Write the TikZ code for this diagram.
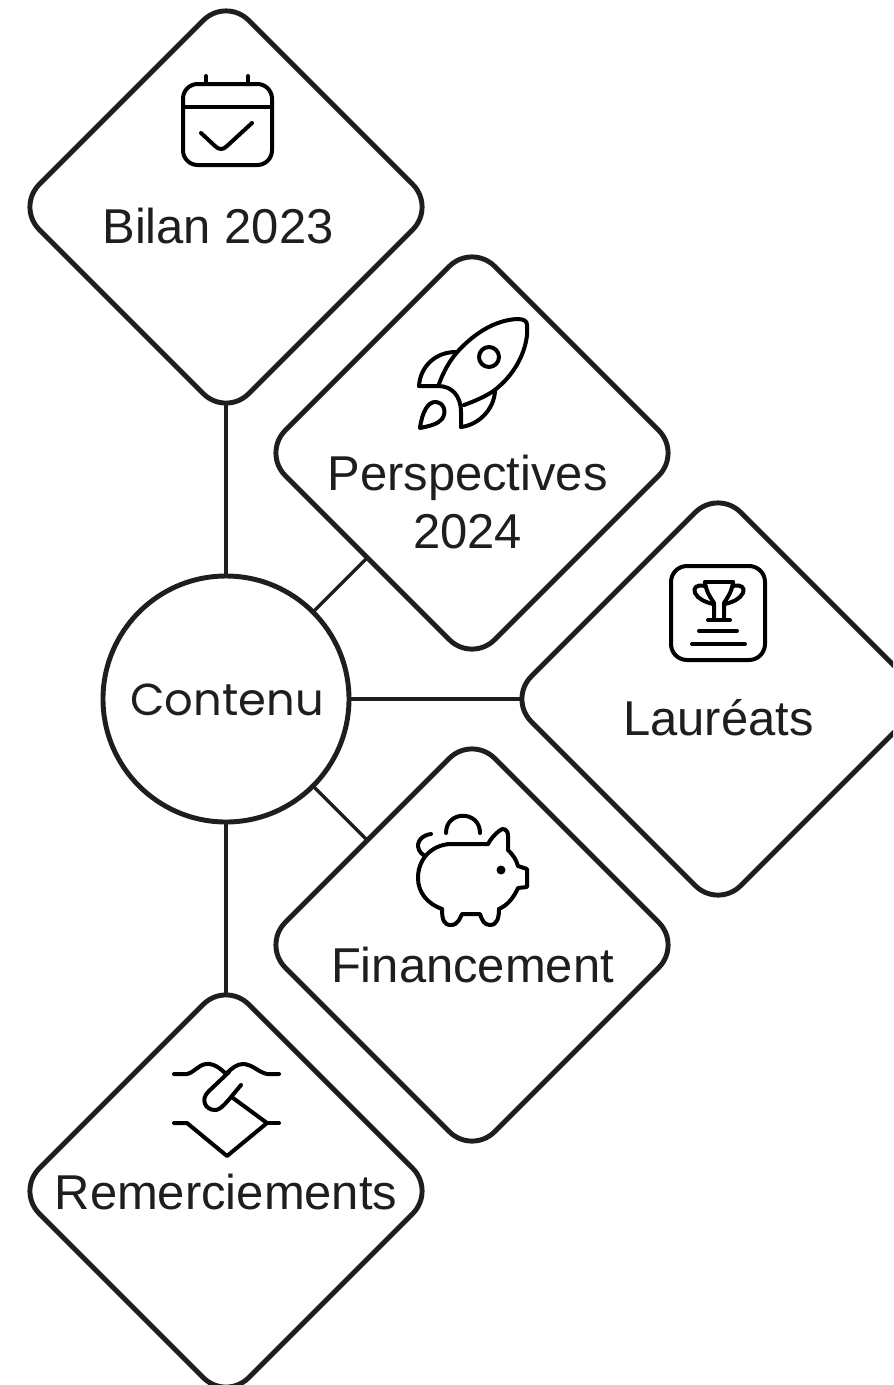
\documentclass[tikz,border=0pt]{standalone}
\usepackage{fontspec}
\setmainfont{Liberation Sans}
\newfontfamily\contenufont{Poppins}
\usetikzlibrary{shapes.geometric,backgrounds}
\definecolor{ink}{HTML}{1E1E1E}
\tikzset{
  px/.style={x=0.75pt,y=-0.75pt},
  topic/.style={diamond,draw=ink,line width=3.7pt,fill=white,rounded corners=24pt,aspect=1,inner sep=0pt,outer sep=0pt,minimum width=314pt,minimum height=314pt},
  hub/.style={circle,draw=ink,line width=3.7pt,fill=white,inner sep=0pt,outer sep=0pt,minimum size=184.5pt},
  link/.style={draw=ink,line width=3.3pt},
  thinlink/.style={draw=ink,line width=2.4pt},
  label/.style={text=ink,font=\fontsize{36.7}{44}\selectfont,align=center,inner sep=0pt},
  icon/.style={draw=black,line width=3pt,line cap=round,line join=round},
}
\begin{document}
\begin{tikzpicture}[px]
\useasboundingbox (0,0) rectangle (893,1385);
\begin{scope}
\clip (0,0) rectangle (893,1385);
\node[hub] (hub) at (226,699) {};
\node[topic] (bilan) at (226,207) {};
\node[topic] (persp) at (472,453) {};
\node[topic] (laur) at (718,699) {};
\node[topic] (fin) at (472,945) {};
\node[topic] (rem) at (226,1191) {};
\begin{scope}[on background layer]
\draw[link] (hub.center) -- (bilan.center);
\draw[thinlink] (hub.45) -- (persp.south west);
\draw[link] (hub.center) -- (laur.center);
\draw[thinlink] (hub.-45) -- (fin.north west);
\draw[link] (hub.center) -- (rem.center);
\end{scope}
\end{scope}
\node[text=ink,font=\contenufont\fontsize{33.6}{40}\selectfont,inner sep=0pt] (tc) at (227,700) {Contenu};
\node[label] (tb) at (218,226) {Bilan 2023};
\node[label] (tp) at (467.5,502) {Perspectives\\2024};
\node[label] (tl) at (718.5,718) {Lauréats};
\node[label] (tf) at (472.5,965) {Financement};
\node[label] (tr) at (226,1192) {Remerciements};
% calendar
\draw[icon,rounded corners=11pt] (183,124) -- (183,84) -- (272,84) -- (272,165) -- (183,165) -- cycle;
\draw[icon] (183,107) -- (272,107);
\draw[icon] (206,76) -- (206,84) (248,76) -- (248,84);
\draw[icon] (201,133) -- (215,146) .. controls (219,150) and (223,150) .. (227,146) -- (252,123);
% rocket
\draw[icon] (527,325) .. controls (529,342) and (520,372) .. (492,392) .. controls (484,397) and (475,401) .. (464,405);
\draw[icon] (527,325) .. controls (527,321) and (524,319) .. (517,319) .. controls (500,320) and (480,328) .. (459,350) .. controls (449,361) and (443,373) .. (439,384);
\draw[icon] (419,386) -- (438,386) .. controls (452,386) and (461,396) .. (461,412) -- (461,427);
\draw[icon] (419,386) .. controls (420,368) and (434,352) .. (456,352);
\draw[icon] (461,427) .. controls (478,425) and (494,410) .. (495,391);
\draw[icon] (489,357) circle (10);
\draw[icon] (420,428) .. controls (422,412) and (428,402) .. (435,402) .. controls (444,402) and (447,412) .. (442,419) .. controls (438,424) and (430,426) .. (420,428) -- cycle;
% trophy
\draw[icon,rounded corners=12pt] (671,610) -- (671,566) -- (765,566) -- (765,660) -- (671,660) -- cycle;
\draw[icon] (705,582) -- (733,582);
\draw[icon] (705,582) .. controls (706,592) and (711,598) .. (714,603) -- (714,619);
\draw[icon] (733,582) .. controls (732,592) and (727,598) .. (724,603) -- (724,619);
\draw[icon] (705,586) .. controls (696,584) and (693,588) .. (695,593) .. controls (698,599) and (705,602) .. (713,604);
\draw[icon] (733,586) .. controls (742,584) and (745,588) .. (743,593) .. controls (740,599) and (733,602) .. (725,604);
\draw[icon] (708,620) -- (730,620);
\draw[icon] (699,631) -- (737,631);
\draw[icon] (692,644) -- (745,644);
% piggy
\draw[icon] (446,833) .. controls (446,810) and (480,810) .. (480,833);
\draw[icon] (431,834) .. controls (416,836) and (414,850) .. (425,856);
\draw[icon] (488,844) -- (449,844) .. controls (430,846) and (418,860) .. (418,878) .. controls (418,893) and (428,904) .. (442,909);
\draw[icon] (442,909) .. controls (442,920) and (444,925) .. (451,925) .. controls (458,925) and (460,918) .. (462,914) -- (480,914) .. controls (482,920) and (484,925) .. (490,925) .. controls (497,925) and (499,918) .. (499,909);
\draw[icon] (499,909) .. controls (508,905) and (514,897) .. (518,888) -- (527,887) -- (527,869) -- (518,866) .. controls (516,859) and (513,855) .. (508,850) -- (508,836) .. controls (508,829) and (503,827) .. (499,831) .. controls (494,835) and (490,840) .. (488,844);
\fill[black] (501,870) circle (4.5);
% handshake
\draw[icon] (174,1074) -- (187,1074) .. controls (195,1072) and (198,1065) .. (206,1064) .. controls (214,1063) and (221,1069) .. (226,1074) .. controls (232,1068) and (237,1064) .. (243,1064) .. controls (252,1064) and (258,1072) .. (267,1074) -- (279,1074);
\draw[icon] (229,1072) -- (209,1091) .. controls (200,1099) and (205,1110) .. (215,1110) .. controls (221,1110) and (226,1103) .. (241,1085);
\draw[icon] (233,1098) -- (267,1123) -- (227,1156) -- (187,1123) -- (174,1123);
\draw[icon] (267,1123) -- (279,1123);
\end{tikzpicture}
\end{document}
